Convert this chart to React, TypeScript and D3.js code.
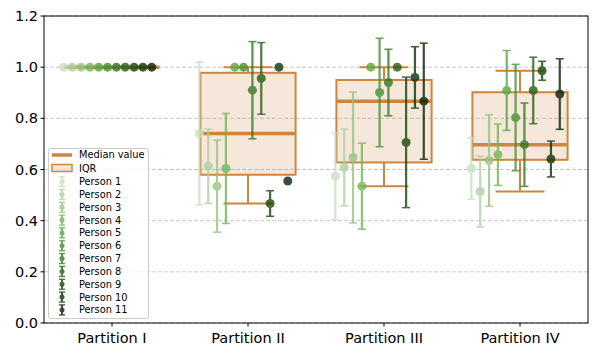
import React from 'react';
import * as d3 from 'd3';

const partitions = ['Partition I', 'Partition II', 'Partition III', 'Partition IV'];
const persons = d3.range(1, 12).map(i => `Person ${i}`);

// mean score per person, one array per partition
const meanI = [1, 1, 1, 1, 1, 1, 1, 1, 1, 1, 1];
const meanII = [0.741, 0.613, 0.535, 0.604, 1.0, 1.0, 0.91, 0.956, 0.467, 1.0, 0.555];
const meanIII = [0.574, 0.608, 0.647, 0.535, 1.0, 0.901, 0.94, 1.0, 0.706, 0.96, 0.867];
const meanIV = [0.604, 0.514, 0.635, 0.658, 0.909, 0.803, 0.697, 0.909, 0.986, 0.641, 0.895];

// error (half length of the bar)
const errI = [0, 0, 0, 0, 0, 0, 0, 0, 0, 0, 0];
const errII = [0.28, 0.145, 0.18, 0.215, 0, 0, 0.19, 0.14, 0.05, 0, 0];
const errIII = [0.17, 0.15, 0.256, 0.168, 0, 0.212, 0.13, 0, 0.255, 0.12, 0.227];
const errIV = [0.12, 0.138, 0.179, 0.12, 0.156, 0.208, 0.163, 0.13, 0.037, 0.07, 0.138];

const yTicks = [0, 0.2, 0.4, 0.6, 0.8, 1.0, 1.2];

const personColors = [
  '#c7e0c0', '#aed1a1', '#95c482', '#6fb856', '#56a73d', '#448f31',
  '#317624', '#225d15', '#154508', '#0b3404', '#052002',
];

const W = 596, H = 358;
const left = 44, right = 588, top = 16, bottom = 323;
const BOX = '#cd853f';
const FONT = 'DejaVu Sans, sans-serif';

const App = () => {
  const means = [meanI, meanII, meanIII, meanIV];
  const errs = [errI, errII, errIII, errIV];

  const x = d3.scaleBand().domain(partitions).range([left, right]).padding(0);
  const y = d3.scaleLinear().domain([0, 1.2]).range([bottom, top]);
  const bw = x.bandwidth();
  const cx = (p: string) => (x(p) as number) + bw / 2;
  const off = (k: number) => (k - 5.5) * 0.065 * bw;
  const boxW = 0.7 * bw;
  const capW = 0.36 * bw;

  const stats = means.map(m => {
    const s = [...m].sort(d3.ascending);
    const q1 = d3.quantile(s, 0.25) as number;
    const med = d3.quantile(s, 0.5) as number;
    const q3 = d3.quantile(s, 0.75) as number;
    const iqr = q3 - q1;
    const lo = d3.min(s.filter(v => v >= q1 - 1.5 * iqr)) as number;
    const hi = d3.max(s.filter(v => v <= q3 + 1.5 * iqr)) as number;
    return { q1, med, q3, lo, hi };
  });

  return (
    <svg width={W} height={H} style={{ position: 'absolute', left: 0, top: 0, background: '#fff' }}
      fontFamily={FONT}>
      {/* grid */}
      {yTicks.map(t => (
        <line key={t} x1={left} x2={right} y1={y(t)} y2={y(t)}
          stroke="#b0b0b0" strokeOpacity={0.7} strokeWidth={1} strokeDasharray="4,2" />
      ))}

      {/* boxes */}
      {partitions.map((p, i) => {
        const s = stats[i];
        const c = cx(p);
        return (
          <g key={p}>
            <line x1={c} x2={c} y1={y(s.q1)} y2={y(s.lo)} stroke={BOX} strokeWidth={2} />
            <line x1={c} x2={c} y1={y(s.q3)} y2={y(s.hi)} stroke={BOX} strokeWidth={2} />
            <line x1={c - capW / 2} x2={c + capW / 2} y1={y(s.lo)} y2={y(s.lo)} stroke={BOX} strokeWidth={2} />
            <line x1={c - capW / 2} x2={c + capW / 2} y1={y(s.hi)} y2={y(s.hi)} stroke={BOX} strokeWidth={2} />
            <rect x={c - boxW / 2} y={y(s.q3)} width={boxW} height={Math.max(0, y(s.q1) - y(s.q3))}
              fill={BOX} fillOpacity={0.2} stroke={BOX} strokeWidth={2} />
            <line x1={c - boxW / 2} x2={c + boxW / 2} y1={y(s.med)} y2={y(s.med)} stroke={BOX} strokeWidth={3.5} />
          </g>
        );
      })}

      {/* per-person error bars */}
      {partitions.map((p, i) => (
        <g key={p}>
          {means[i].map((m, k) => {
            const px = cx(p) + off(k);
            const e = errs[i][k];
            const col = personColors[k];
            return (
              <g key={k} opacity={0.8}>
                {e > 0 && (
                  <g stroke={col}>
                    <line x1={px} x2={px} y1={y(m - e)} y2={y(m + e)} strokeWidth={2.2} />
                    <line x1={px - 4} x2={px + 4} y1={y(m - e)} y2={y(m - e)} strokeWidth={1.5} />
                    <line x1={px - 4} x2={px + 4} y1={y(m + e)} y2={y(m + e)} strokeWidth={1.5} />
                  </g>
                )}
                <circle cx={px} cy={y(m)} r={4.5} fill={col} />
              </g>
            );
          })}
        </g>
      ))}

      {/* frame */}
      <rect x={left} y={top} width={right - left} height={bottom - top} fill="none" stroke="#000" strokeWidth={1} />

      {/* y axis */}
      {yTicks.map(t => (
        <g key={t}>
          <line x1={left - 3.5} x2={left} y1={y(t)} y2={y(t)} stroke="#000" />
          <text x={left - 6} y={y(t)} dy="0.35em" textAnchor="end" fontSize={14.5} fill="#000">
            {d3.format('.1f')(t)}
          </text>
        </g>
      ))}

      {/* x axis */}
      {partitions.map(p => (
        <g key={p}>
          <line x1={cx(p)} x2={cx(p)} y1={bottom} y2={bottom + 3.5} stroke="#000" />
          <text x={cx(p)} y={bottom + 20} textAnchor="middle" fontSize={14.5} fill="#000">{p}</text>
        </g>
      ))}

      {/* legend */}
      <g fontSize={9.8}>
        <rect x={48.5} y={148.5} width={100} height={170} rx={2} fill="#fff" fillOpacity={0.8} stroke="#cccccc" />
        <line x1={52} x2={72} y1={155} y2={155} stroke={BOX} strokeWidth={3.5} />
        <text x={79} y={155} dy="0.35em">Median value</text>
        <rect x={52} y={164.5} width={20} height={7} fill={BOX} fillOpacity={0.2} stroke={BOX} strokeWidth={1.5} />
        <text x={79} y={168.3} dy="0.35em">IQR</text>
        {persons.map((name, k) => {
          const ly = 181.6 + k * 12.83;
          const col = personColors[k];
          return (
            <g key={name}>
              <g opacity={0.8} stroke={col}>
                <line x1={62} x2={62} y1={ly - 5} y2={ly + 5} strokeWidth={2} />
                <line x1={59} x2={65} y1={ly - 5} y2={ly - 5} strokeWidth={1.3} />
                <line x1={59} x2={65} y1={ly + 5} y2={ly + 5} strokeWidth={1.3} />
                <circle cx={62} cy={ly} r={2.5} fill={col} stroke="none" />
              </g>
              <text x={79} y={ly} dy="0.35em">{name}</text>
            </g>
          );
        })}
      </g>
    </svg>
  );
};

export default App;
